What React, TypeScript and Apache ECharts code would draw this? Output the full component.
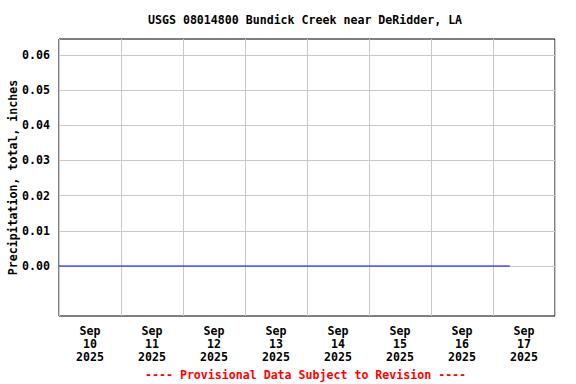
import React, { useEffect, useRef } from "react";
import * as echarts from "echarts";

const titleText = "USGS 08014800 Bundick Creek near DeRidder, LA";
const yAxisTitle = "Precipitation, total, inches";
const footerText = "---- Provisional Data Subject to Revision ----";
const dayLabels = [
  "Sep\n10\n2025",
  "Sep\n11\n2025",
  "Sep\n12\n2025",
  "Sep\n13\n2025",
  "Sep\n14\n2025",
  "Sep\n15\n2025",
  "Sep\n16\n2025",
  "Sep\n17\n2025",
];
// hours since Sep 10 2025 00:00
const obsHours = [0, 24, 48, 72, 96, 120, 144, 168, 174.5];
const obsValues = [0, 0, 0, 0, 0, 0, 0, 0, 0];
const yTickValues = [0, 0.01, 0.02, 0.03, 0.04, 0.05, 0.06];

const FONT = "DejaVu Sans Mono";

export default function App() {
  const ref = useRef<HTMLDivElement>(null);
  useEffect(() => {
    document.body.style.margin = "0";
    if (!ref.current) return;
    const chart = echarts.init(ref.current, undefined, { renderer: "svg" });
    chart.setOption({
      animation: false,
      backgroundColor: "#ffffff",
      title: {
        text: titleText,
        left: 148,
        top: 14,
        padding: 0,
        textStyle: { fontFamily: FONT, fontWeight: "bold", fontSize: 11.6, color: "#000" },
      },
      graphic: [
        {
          type: "text",
          left: 145,
          top: 369,
          style: {
            text: footerText,
            fill: "#ff0000",
            font: `bold 11.6px "${FONT}"`,
          },
        },
      ],
      grid: {
        left: 59,
        top: 39,
        right: 21,
        bottom: 68,
        outerBoundsMode: "none",
        containLabel: false,
        show: true,
        borderColor: "#000",
        borderWidth: 1,
        backgroundColor: "transparent",
      },
      xAxis: [
        {
          type: "value",
          position: "bottom",
          min: 0,
          max: 192,
          interval: 24,
          axisLine: { show: false },
          axisTick: { show: false },
          axisLabel: { show: false },
          splitLine: { show: true, lineStyle: { color: "#c8c8c8", width: 1 } },
        },
        {
          type: "category",
          position: "bottom",
          data: dayLabels,
          boundaryGap: true,
          axisLine: { show: false },
          axisTick: { show: false },
          splitLine: { show: false },
          axisLabel: {
            interval: 0,
            margin: 8,
            lineHeight: 13,
            fontFamily: FONT,
            fontWeight: "bold",
            fontSize: 11.6,
            color: "#000",
          },
        },
      ],
      yAxis: {
        type: "value",
        min: -0.0142,
        max: 0.0645,
        name: yAxisTitle,
        nameLocation: "middle",
        nameGap: 40,
        nameMoveOverlap: false,
        nameTextStyle: {
          fontFamily: FONT,
          fontWeight: "bold",
          fontSize: 11.6,
          color: "#000",
        },
        axisLine: { show: false },
        axisTick: { show: false, customValues: yTickValues },
        axisLabel: {
          customValues: yTickValues,
          margin: 9,
          fontFamily: FONT,
          fontWeight: "bold",
          fontSize: 11.6,
          color: "#000",
          formatter: (v: number) => v.toFixed(2),
        },
        splitLine: { show: true, lineStyle: { color: "#c8c8c8", width: 1 } },
      },
      series: [
        {
          type: "line",
          xAxisIndex: 0,
          data: obsHours.map((h, i) => [h, obsValues[i]]),
          showSymbol: false,
          lineStyle: { color: "#0000ff", width: 1 },
          itemStyle: { color: "#0000ff" },
        },
      ],
    });
    return () => chart.dispose();
  }, []);
  return <div ref={ref} style={{ width: 576, height: 384 }} />;
}
